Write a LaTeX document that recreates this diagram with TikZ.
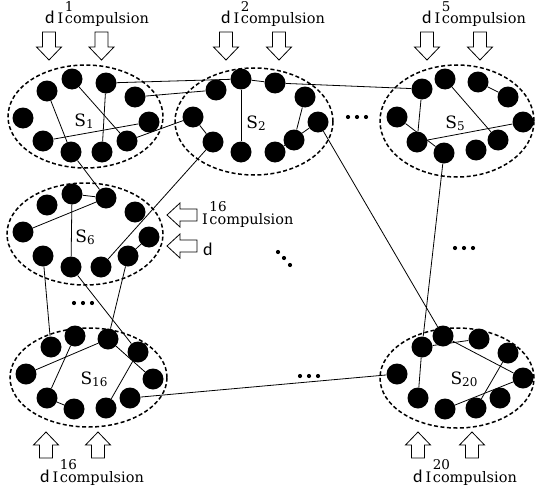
\documentclass[tikz,border=0pt]{standalone}
\usepackage{fontspec}
\newfontfamily\dfont{Carlito}
\newfontfamily\sfnt{DejaVu Serif}
\newcommand{\Icomp}[1]{\sfnt\fontsize{14.5}{14.5}\selectfont I\kern1.5pt\rlap{\raisebox{12.5pt}{\fontsize{13.5}{13.5}\selectfont #1}}compulsion}
\newcommand{\dlet}{{\dfont\fontsize{18}{18}\selectfont d}}
\newcommand{\Slab}[1]{\sfnt\fontsize{17}{17}\selectfont S\raisebox{-2pt}{\fontsize{12}{12}\selectfont #1}}
\tikzset{
  arrowbox/.style={draw,fill=white,line width=0.8pt,line join=miter},
  arrdown/.pic={\draw[arrowbox] (-6.5,0) -- (6.5,0) -- (6.5,15) -- (12.5,15) -- (0,28) -- (-12.5,15) -- (-6.5,15) -- cycle;},
  arrup/.pic={\draw[arrowbox] (-6.5,0) -- (6.5,0) -- (6.5,-13) -- (12.5,-13) -- (0,-26) -- (-12.5,-13) -- (-6.5,-13) -- cycle;},
  arrleft/.pic={\draw[arrowbox] (0,-6) -- (0,6) -- (-17,6) -- (-17,12) -- (-30,0) -- (-17,-12) -- (-17,-6) -- cycle;},
}
\begin{document}
\begin{tikzpicture}[x=1pt,y=-1pt,
  ball/.style={circle,fill=black,inner sep=0pt,minimum size=21pt},
  link/.style={line width=0.8pt},
  grp/.style={dash pattern=on 4pt off 2.5pt,line width=1.5pt},
  lbl/.style={inner sep=0pt,anchor=base west},
  slab/.style={inner sep=0pt,anchor=base},
  sdot/.style={circle,fill=black,inner sep=0pt,minimum size=4.2pt},
]
\useasboundingbox (0,0) rectangle (535,495);

% groups
\draw[grp] (85.5,116.5) ellipse [x radius=77.5pt, y radius=51.5pt];
\draw[grp] (254,121.5) ellipse [x radius=79pt, y radius=53.5pt];
\draw[grp] (457,121) ellipse [x radius=77pt, y radius=56pt];
\draw[grp] (85,234) ellipse [x radius=78pt, y radius=51pt];
\draw[grp] (88.5,377.5) ellipse [x radius=78.5pt, y radius=49.5pt];
\draw[grp] (457,378) ellipse [x radius=77pt, y radius=50pt];

% members
\foreach \n/\x/\y in {
  d1/23/118, d2/47/91, d3/72/79, d4/106/83, d5/135/97, d6/149/122, d7/127/141, d8/102/152, d9/71/152, d10/43/141,
  a1/216/90, a2/241/79, a3/275/83, a4/305/97, a5/318/122, a6/294/140, a7/275/152, a8/241/152, a9/213/142, a10/193/117,
  b1/422/89, b2/445/79, b3/478/82, b4/508/97, b5/523/122, b6/498/140, b7/476/150, b8/444/153, b9/417/142, b10/397/117,
  c1/47/205, c2/72/194, c3/106/198, c4/135/212, c5/149/237, c6/128/256, c7/101/267, c8/71/267, c9/43/256, c10/23/232,
  e1/51/347, e2/75/336, e3/108/339, e4/138/352, e5/153/379, e6/130/398, e7/106/408, e8/74/409, e9/47/398, e10/26/374,
  f1/422/347, f2/443/336, f3/479/339, f4/508/353, f5/523/378, f6/500/398, f7/476/408, f8/445/409, f9/418/398, f10/397/374}
  \node[ball] (\n) at (\x,\y) {};

% connections
\foreach \p/\q in {d2/d9, d3/d7, d4/d8, d10/d6, d4/a2, d5/a1, d7/a10, d9/c3,
  a2/a3, a2/a8, a3/b1, a4/a6, a7/a5, a10/a9, a9/c7, a5/f2,
  b1/b9, b2/b6, b3/b4, b10/b8, b9/b5, b8/f1,
  c2/c3, c2/c8, c3/c10, c5/c6, c6/e3, c8/e4, c9/e1,
  e3/e5, e3/e10, e2/e9, e9/e8, e7/e4, e6/f10,
  f1/f9, f1/f3, f2/f5, f4/f7, f8/f5}
  \draw[link] (\p) -- (\q);

% group labels
\node[slab] (s1) at (84,126) {\Slab{1}};
\node[slab] (s2) at (256,128) {\Slab{2}};
\node[slab] (s5) at (455,128) {\Slab{5}};
\node[slab] (s6) at (85,242) {\Slab{6}};
\node[slab] (s16) at (94,384) {\Slab{16}};
\node[slab] (s20) at (464,384) {\Slab{20}};

% input arrows
\pic at (49,32) {arrdown};
\pic at (101.5,32) {arrdown};
\pic at (226,32) {arrdown};
\pic at (279,32) {arrdown};
\pic at (427,32) {arrdown};
\pic at (480,32) {arrdown};
\pic at (46,458) {arrup};
\pic at (98,458) {arrup};
\pic at (418,458) {arrup};
\pic at (472,458) {arrup};
\pic at (197,215) {arrleft};
\pic at (197,246) {arrleft};

% input labels
\node[lbl] (t1) at (45,24) {\dlet\hspace{3pt}\Icomp{1}};
\node[lbl] (t2) at (221,24) {\dlet\hspace{3pt}\Icomp{2}};
\node[lbl] (t5) at (422,24) {\dlet\hspace{3pt}\Icomp{5}};
\node[lbl] (t16) at (40,482) {\dlet\hspace{3pt}\Icomp{16}};
\node[lbl] (t20) at (413,482) {\dlet\hspace{3pt}\Icomp{20}};
\node[lbl] (t6a) at (202,224) {\Icomp{16}};
\node[lbl] (t6b) at (203,255) {\dlet};

% ellipses (omitted groups)
\foreach \n/\x/\y in {h1/348/117, h2/357/117, h3/366/117,
  v1/455/248, v2/464/248, v3/473/248,
  w1/74/303, w2/83/303, w3/92/303,
  u1/300/376, u2/309/376, u3/318/376,
  g1/278/252, g2/284/258, g3/290/265}
  \node[sdot] (\n) at (\x,\y) {};
\end{tikzpicture}
\end{document}
